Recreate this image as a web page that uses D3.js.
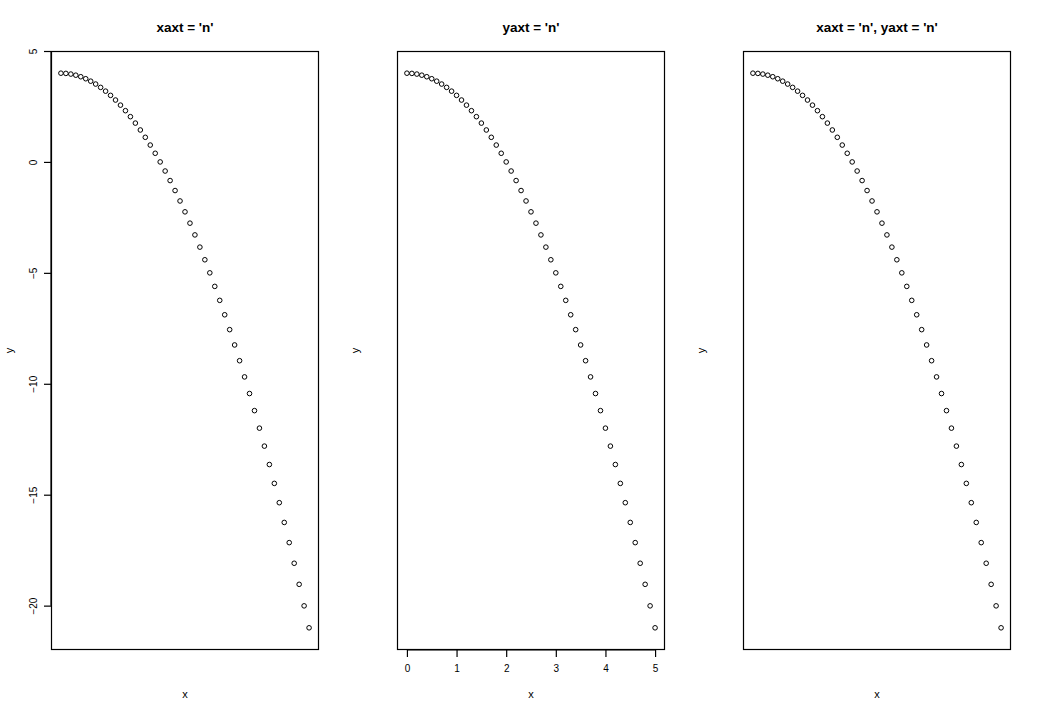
<!DOCTYPE html>
<html>
<head>
<meta charset="utf-8">
<script src="https://cdn.jsdelivr.net/npm/d3@7"></script>
<style>
  body { margin: 0; background: #fff; }
  text { font-family: "Liberation Sans", Arial, sans-serif; fill: #000; }
</style>
</head>
<body>
<div id="chart"></div>
<script>
// data
let xs = [0, 0.1, 0.2, 0.3, 0.4, 0.5, 0.6, 0.7, 0.8, 0.9, 1, 1.1, 1.2, 1.3, 1.4, 1.5, 1.6, 1.7, 1.8, 1.9,
          2, 2.1, 2.2, 2.3, 2.4, 2.5, 2.6, 2.7, 2.8, 2.9, 3, 3.1, 3.2, 3.3, 3.4, 3.5, 3.6, 3.7, 3.8, 3.9,
          4, 4.1, 4.2, 4.3, 4.4, 4.5, 4.6, 4.7, 4.8, 4.9, 5];
let ys = [4, 3.99, 3.96, 3.91, 3.84, 3.75, 3.64, 3.51, 3.36, 3.19, 3, 2.79, 2.56, 2.31, 2.04, 1.75, 1.44, 1.11, 0.76, 0.39,
          0, -0.41, -0.84, -1.29, -1.76, -2.25, -2.76, -3.29, -3.84, -4.41, -5, -5.61, -6.24, -6.89, -7.56, -8.25, -8.96, -9.69, -10.44, -11.21,
          -12, -12.81, -13.64, -14.49, -15.36, -16.25, -17.16, -18.09, -19.04, -20.01, -21];
let xTicks = [0, 1, 2, 3, 4, 5];
let yTicks = [-20, -15, -10, -5, 0, 5];
let titles = ["xaxt = 'n'", "yaxt = 'n'", "xaxt = 'n', yaxt = 'n'"];
let showX = [false, true, false];
let showY = [true, false, false];

let W = 1038, H = 715;
let panelW = W / 3;
let margin = {top: 51, right: 27, bottom: 65, left: 51};
let width = panelW - margin.left - margin.right;
let height = H - margin.top - margin.bottom;

let points = xs.map((x, i) => ({x: x, y: ys[i]}));

let svg = d3.select("#chart")
    .append("svg")
    .attr("width", W)
    .attr("height", H);

let x = d3.scaleLinear().domain([-0.2, 5.2]).range([0, width]);
let y = d3.scaleLinear().domain([-22, 5]).range([height, 0]);

titles.forEach(function (title, p) {
    let g = svg.append("g")
        .attr("transform", "translate(" + (p * panelW + margin.left) + "," + margin.top + ")");

    // box
    g.append("rect")
        .attr("x", 0.5).attr("y", 0.5)
        .attr("width", width - 1).attr("height", height - 1)
        .attr("fill", "none").attr("stroke", "#000").attr("stroke-width", 1.2);

    g.selectAll(".pt")
        .data(points)
        .enter()
        .append("circle")
        .attr("class", "pt")
        .attr("cx", d => x(d.x))
        .attr("cy", d => y(d.y))
        .attr("r", 2.3)
        .attr("fill", "none")
        .attr("stroke", "#000")
        .attr("stroke-width", 1);

    if (showX[p]) {
        let ax = g.append("g")
            .attr("transform", "translate(0," + height + ")")
            .call(d3.axisBottom(x).tickValues(xTicks).tickSize(7).tickPadding(8).tickFormat(d3.format("d")));
        ax.select(".domain").attr("d", "M" + x(0) + ",0H" + x(5)).attr("stroke-width", 1.2);
        ax.selectAll(".tick line").attr("stroke-width", 1.2);
        ax.selectAll("text").style("font-size", "10px").attr("fill", "#000");
    }
    if (showY[p]) {
        let ay = g.append("g")
            .call(d3.axisLeft(y).tickValues(yTicks).tickSize(7).tickFormat(d3.format("d")));
        ay.select(".domain").attr("d", "M0," + y(-20) + "V" + y(5)).attr("stroke-width", 1.2);
        ay.selectAll(".tick line").attr("stroke-width", 1.2);
        ay.selectAll("text")
            .attr("x", null).attr("dy", null)
            .attr("transform", "translate(-14,0) rotate(-90)")
            .attr("text-anchor", "middle")
            .style("font-size", "10px")
            .attr("fill", "#000");
    }

    // title and axis labels
    g.append("text")
        .attr("x", width / 2).attr("y", -19)
        .attr("text-anchor", "middle")
        .style("font-size", "13.5px").style("font-weight", "bold")
        .text(title);
    g.append("text")
        .attr("x", width / 2).attr("y", height + 48)
        .attr("text-anchor", "middle")
        .style("font-size", "11px")
        .text("x");
    g.append("text")
        .attr("transform", "translate(-38," + (height / 2) + ") rotate(-90)")
        .attr("text-anchor", "middle")
        .style("font-size", "11px")
        .text("y");
});
</script>
</body>
</html>
